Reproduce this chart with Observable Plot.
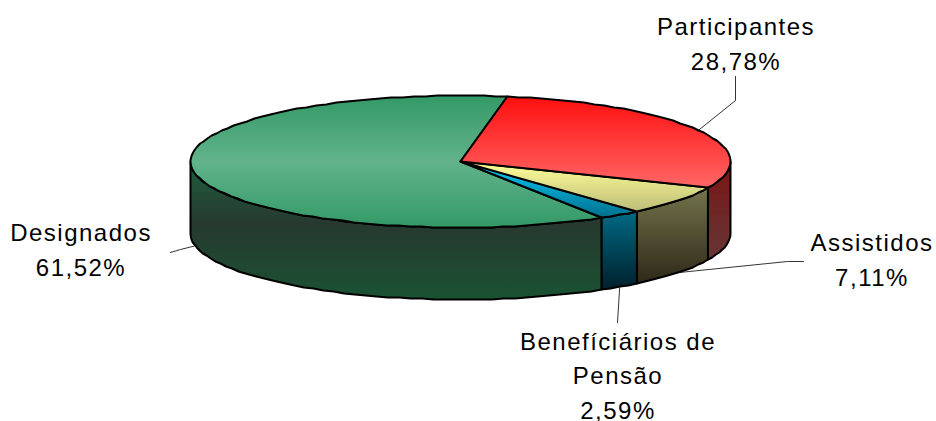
<!DOCTYPE html>
<html><head><meta charset="utf-8">
<style>html,body{margin:0;padding:0;background:#fff;overflow:hidden}</style>
<script src="https://cdn.jsdelivr.net/npm/d3@7"></script>
<script src="https://cdn.jsdelivr.net/npm/@observablehq/plot@0.6"></script>
</head><body>
<script>
// Data
const names = ["Participantes", "Assistidos", "Benefíciários de\nPensão", "Designados"];
const shares = [28.78, 7.11, 2.59, 61.52];
// Appearance, per slice
const topStops = [
  [["0%","#ff0f0f"],["100%","#ff6666"]],
  [["0%","#ffff99"],["100%","#bdbd78"]],
  [["0%","#00ccff"],["100%","#00708c"]],
  [["0%","#339966"],["50%","#62b38b"],["100%","#339966"]]
];
const sideStops = [
  [["0%","#7a1414"],["100%","#663636"]],
  [["0%","#74744c"],["100%","#2e2818"]],
  [["0%","#006a85"],["100%","#001f2b"]],
  [["0%","#1f5f3e"],["45%","#27392f"],["100%","#1a5233"]]
];
// Layout of the tilted disc
const cx = 460, cy = 161, rx = 270, ry = 66, depth = 72, startDeg = 10;
const labelPos = [[735.5, 41], [871.5, 257], [617.5, 373], [80.5, 247]];
const leaderBends = [[[735,100],[735,76]], [[787,261],[803,261]], [[617,322]], [[180,249],[170,252]]];

const rad = d => d * Math.PI / 180;
const ex = a => cx + rx * Math.sin(rad(a));
const ey = a => cy - ry * Math.cos(rad(a));

// angular extents derived from the values
let acc = startDeg;
const total = d3.sum(shares);
const slices = shares.map((v, i) => {
  const a0 = acc, a1 = acc + v / total * 360; acc = a1;
  return {i, a0, a1, mid: (a0 + a1) / 2};
});
// The outline is sampled on a pixel grid, which gives the slightly uneven edge of the original rendering
const arc = (a0, a1) => {
  const n = Math.max(2, Math.ceil((a1 - a0) / 2.5)), pts = [];
  for (let k = 0; k <= n; k++) {
    const a = a0 + (a1 - a0) * k / n;
    pts.push([ex(a), Math.round(ey(a))]);
  }
  return pts;
};
const topPoly = s => { const c = [cx, cy]; return [c, ...arc(s.a0, s.a1), c]; };
const sidePoly = s => {
  const a0 = Math.max(s.a0, 90), a1 = Math.min(s.a1, 270);
  if (a1 <= a0) return null;
  const t = arc(a0, a1);
  const b = t.map(([x, y]) => [x, y + depth]).reverse();
  return [...t, ...b, t[0]];
};

function gradient(defs, id, stops) {
  const g = defs.append("linearGradient").attr("id", id).attr("x1", 0).attr("y1", 0).attr("x2", 0).attr("y2", 1);
  stops.forEach(([o, c]) => g.append("stop").attr("offset", o).attr("stop-color", c));
}
const defsMark = () => {
  const defs = d3.create("svg:defs");
  topStops.forEach((s, i) => gradient(defs, "top" + i, s));
  sideStops.forEach((s, i) => gradient(defs, "side" + i, s));
  return defs.node();
};

const poly = (pts, fill) => Plot.line(pts, {x: d => d[0], y: d => d[1], fill, stroke: "#000", strokeWidth: 2, strokeLinejoin: "round", curve: "linear"});

const leaders = slices.map(s => {
  const bottom = s.mid > 90 && s.mid < 270;
  const start = [ex(s.mid), ey(s.mid) + (bottom ? depth : 0)];
  return [start, ...leaderBends[s.i]];
});

const labels = slices.map(s => ({
  text: names[s.i] + "\n" + shares[s.i].toFixed(2).replace(".", ",") + "%",
  x: labelPos[s.i][0], y: labelPos[s.i][1]
}));

const plot = Plot.plot({
  width: 936, height: 421, margin: 0,
  x: {type: "identity", axis: null},
  y: {type: "identity", axis: null},
  style: {background: "#fff", overflow: "hidden", letterSpacing: "1.5px"},
  marks: [
    defsMark,
    ...leaders.map(l => Plot.line(l, {x: d => d[0], y: d => d[1], stroke: "#000", strokeWidth: 0.8, curve: "linear"})),
    ...slices.map(s => { const p = sidePoly(s); return p ? poly(p, `url(#side${s.i})`) : null; }).filter(Boolean),
    ...slices.slice().reverse().map(s => poly(topPoly(s), `url(#top${s.i})`)),
    Plot.text(labels, {x: "x", y: "y", text: "text", fontFamily: "Liberation Sans, Arial, sans-serif", fontSize: 24, lineHeight: 1.43, fill: "#000", textAnchor: "middle", lineAnchor: "middle"})
  ]
});
document.body.appendChild(plot);
</script>
</body></html>
